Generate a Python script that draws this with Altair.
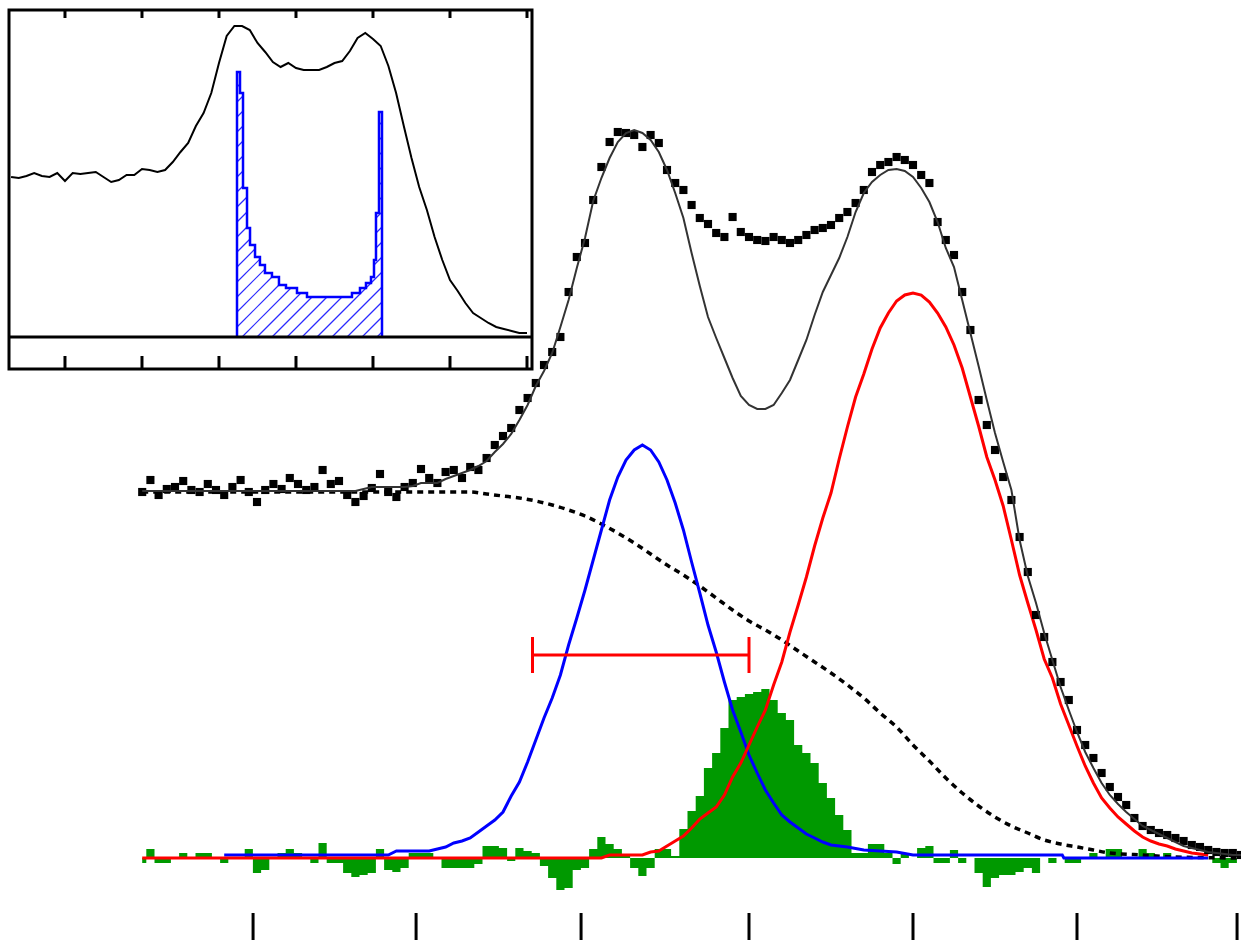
import altair as alt
import pandas as pd
import numpy as np

# ---------------- main spectrum: energy (channel units) and counts above baseline
energy = [30, 35, 40, 45, 50, 55, 60, 65, 70, 75,
          80, 85, 90, 95, 100, 105, 110, 115, 120, 125,
          130, 135, 140, 145, 150, 155, 160, 165, 170, 175,
          180, 185, 190, 195, 200, 205, 210, 215, 220, 225,
          230, 235, 240, 245, 250, 255, 260, 265, 270, 275,
          280, 285, 290, 295, 300, 305, 310, 315, 320, 325,
          330, 335, 340, 345, 350, 355, 360, 365, 370, 375,
          380, 385, 390, 395, 400, 405, 410, 415, 420, 425,
          430, 435, 440, 445, 450, 455, 460, 465, 470, 475,
          480, 485, 490, 495, 500, 505, 510, 515, 520, 525,
          530, 535, 540, 545, 550, 555, 560, 565, 570, 575,
          580, 585, 590, 595, 600, 605, 610, 615, 620, 625,
          630, 635, 640, 645, 650, 655, 660, 665, 670, 675,
          680, 685, 690, 695, 700]

counts = [366, 378, 363, 369, 371, 377, 368, 366, 374, 368,
          363, 371, 378, 366, 356, 368, 374, 369, 380, 374,
          368, 371, 388, 374, 377, 363, 356, 362, 370, 384,
          366, 361, 371, 375, 389, 380, 375, 386, 388, 380,
          391, 388, 400, 413, 422, 430, 448, 460, 475, 493,
          506, 521, 566, 601, 615, 658, 691, 716, 726, 725,
          723, 711, 723, 715, 688, 675, 668, 653, 640, 634,
          625, 621, 641, 626, 621, 618, 617, 621, 618, 615,
          618, 623, 628, 630, 633, 640, 646, 655, 668, 686,
          693, 696, 701, 698, 693, 683, 675, 636, 618, 603,
          566, 528, 458, 433, 408, 381, 358, 321, 286, 243,
          221, 196, 176, 158, 128, 113, 100, 85, 71, 61,
          53, 40, 32, 28, 25, 23, 20, 17, 13, 11,
          8, 6, 5, 5, 3]

fit_total = [367, 367, 367, 367, 367, 367, 367, 367, 367, 367,
             367, 367, 367, 367, 367, 367, 367, 367, 367, 367,
             367, 367, 367, 367, 367, 367, 367, 369, 371, 371,
             371, 371, 371, 372, 375, 375, 375, 379, 382, 385,
             388, 392, 397, 406, 414, 424, 438, 453, 472, 487,
             505, 531, 558, 590, 620, 657, 680, 700, 716, 725,
             728, 725, 718, 706, 688, 665, 640, 605, 572, 541,
             520, 500, 480, 462, 453, 449, 449, 453, 465, 478,
             498, 518, 543, 566, 583, 600, 621, 646, 665, 676,
             683, 688, 689, 687, 681, 670, 656, 636, 610, 591,
             558, 525, 492, 458, 425, 396, 368, 318, 282, 255,
             225, 198, 171, 148, 126, 106, 90, 75, 63, 54,
             46, 39, 32, 28, 24, 20, 16, 12, 10, 8,
             6, 5, 4, 3, 3]

residual = [-5, 9, -5, -5, 0, 5, 0, 5, 5, 0,
            -5, 0, 0, 9, -15, -12, 0, 5, 9, 5,
            0, -5, 15, -5, -5, -15, -19, -17, -15, 9,
            -12, -14, -10, 5, 5, 5, 0, -10, -10, -10,
            -10, -6, 12, 12, 10, -3, 10, 7, 5, -8,
            -20, -32, -30, -12, -10, 9, 21, 14, 9, 4,
            -10, -18, -10, 9, 9, 2, 29, 47, 62, 90,
            105, 130, 158, 161, 164, 166, 169, 158, 145, 138,
            113, 105, 95, 75, 60, 43, 28, 5, 5, 14,
            14, 5, -6, 5, 0, 10, 12, -5, -5, 8,
            -5, 0, -15, -29, -20, -17, -17, -14, -10, -15,
            0, -5, 0, -5, -5, 0, 5, 0, 9, 9,
            0, 0, 9, 5, 0, 5, 0, 0, 0, 0,
            0, -5, -10, -5, 0]

bg_energy = [30, 100, 200, 230, 240, 250, 260, 270, 280, 290, 300, 310, 320, 330,
             340, 350, 360, 370, 380, 390, 400, 410, 420, 430, 440, 450, 460, 470,
             480, 490, 500, 510, 520, 530, 540, 550, 560, 570, 580, 590, 600, 610,
             620, 640, 660, 700]
bg_counts = [366, 366, 366, 366, 364, 362, 360, 357, 353, 348, 342, 334, 325, 315,
             304, 293, 283, 272, 260, 248, 237, 228, 218, 207, 196, 185, 173, 160,
             145, 131, 113, 97, 80, 65, 52, 41, 32, 25, 18, 14, 11, 8,
             5, 3, 1, 0]

peak1_energy = [80, 180, 185, 200, 205, 210, 215, 220, 225, 230, 235, 240, 245, 250,
                255, 260, 265, 270, 275, 280, 285, 290, 295, 300, 305, 310, 315, 320,
                325, 330, 335, 340, 345, 350, 355, 360, 365, 370, 375, 380, 385, 390,
                395, 400, 405, 410, 415, 420, 425, 430, 435, 440, 445, 450, 460, 470,
                480, 490, 500, 591, 592, 680]
peak1_counts = [3, 3, 7, 7, 7, 9, 11, 15, 17, 20, 26, 32, 38, 46,
                62, 76, 96, 118, 140, 160, 183, 213, 240, 268, 298, 328, 358, 381,
                398, 408, 413, 408, 396, 378, 355, 328, 296, 265, 233, 206, 176, 148,
                126, 103, 85, 68, 55, 43, 36, 30, 24, 20, 16, 13, 11, 8,
                7, 6, 3, 3, 0, 0]

peak2_energy = [30, 310, 315, 335, 340, 345, 350, 355, 360, 365, 370, 375, 380, 385,
                390, 395, 400, 405, 410, 415, 420, 425, 430, 435, 440, 445, 450, 455,
                460, 465, 470, 475, 480, 485, 490, 495, 500, 505, 510, 515, 520, 525,
                530, 535, 540, 545, 550, 555, 560, 565, 570, 575, 580, 585, 590, 595,
                600, 605, 610, 615, 620, 625, 630, 635, 640, 645, 650, 655, 660, 665,
                670, 675, 680]
peak2_counts = [0, 0, 3, 3, 6, 7, 12, 17, 22, 30, 39, 45, 51, 63,
                81, 95, 113, 131, 148, 173, 196, 226, 253, 281, 312, 340, 365, 399,
                431, 461, 484, 509, 530, 545, 557, 563, 565, 563, 556, 545, 531, 513,
                490, 461, 432, 401, 378, 352, 318, 283, 255, 228, 199, 180, 154, 133,
                112, 92, 75, 60, 50, 41, 34, 27, 21, 17, 14, 12, 9, 7,
                5, 4, 3]

errbar_energy = [268, 400]
errbar_level = [203]
errbar_cap = [185, 221]

tick_energy = [97.6, 197, 297.6, 400, 500, 600, 697.6]
tick_span = [-55, -82]

main_x_domain = [-56.71, 700]
main_y_domain = [-85, 858]

# ---------------- inset
inset_u = [-7, -6, -5, -4, -3, -2, -1, 0, 1, 2,
           3, 4, 5, 6, 7, 8, 9, 10, 11, 12,
           13, 14, 15, 16, 17, 18, 19, 20, 21, 22,
           23, 24, 25, 26, 27, 28, 29, 30, 31, 32,
           33, 34, 35, 36, 37, 38, 39, 40, 41, 42,
           43, 44, 45, 46, 47, 48, 49, 50, 51, 52,
           53, 54, 55, 56, 57, 58, 59, 60]
inset_v = [160, 159, 161, 164, 161, 160, 164, 156, 164, 163,
           164, 165, 160, 155, 157, 162, 162, 168, 167, 165,
           167, 175, 185, 194, 211, 224, 244, 274, 301, 311,
           311, 307, 294, 285, 275, 270, 274, 269, 267, 267,
           267, 270, 274, 276, 286, 299, 304, 298, 291, 271,
           244, 211, 179, 150, 127, 100, 77, 57, 46, 34,
           24, 19, 14, 10, 8, 6, 4, 4]

hist_edges = [22.34, 22.73, 23.12, 23.64, 24.03, 24.68, 25.32, 25.97, 26.88, 27.79, 28.70,
              30.13, 31.43, 37.27, 38.31, 39.09, 39.74, 40.13, 40.39, 40.78, 41.17]
hist_heights = [265, 244, 149, 109, 92, 80, 72, 64, 60, 52, 49,
                44, 40, 44, 49, 54, 60, 77, 124, 225]

inset_ticks = [0, 10, 20, 30, 40, 50, 60]
inset_u_domain = [-7.27, 60.65]
inset_v_domain = [-32, 327]

# ---------------- layout
W, H = 1241, 943
INSET_X = [9, 532]
INSET_Y = [369, 10]

X = alt.Scale(domain=main_x_domain, range=[0, W], nice=False, zero=False)
Y = alt.Scale(domain=main_y_domain, range=[H, 0], nice=False, zero=False)
IX = alt.Scale(domain=inset_u_domain, range=INSET_X, nice=False, zero=False)
IY = alt.Scale(domain=inset_v_domain, range=INSET_Y, nice=False, zero=False)


def mx(f="e"):
    return alt.X(f + ":Q", scale=X, axis=None)


def my(f="c"):
    return alt.Y(f + ":Q", scale=Y, axis=None)


df = pd.DataFrame({"e": energy, "c": counts, "fit": fit_total, "res": residual})
bg = pd.DataFrame({"e": bg_energy, "c": bg_counts})
p1 = pd.DataFrame({"e": peak1_energy, "c": peak1_counts})
p2 = pd.DataFrame({"e": peak2_energy, "c": peak2_counts})

green = alt.Chart(df).mark_area(interpolate="step", color="#009900").encode(
    x=mx(), y=my("res"), y2=alt.datum(0))
dashed = alt.Chart(bg).mark_line(color="black", strokeWidth=3.5, strokeDash=[6, 5],
                                 interpolate="monotone").encode(x=mx(), y=my())
blue = alt.Chart(p1).mark_line(color="#0000ff", strokeWidth=3).encode(x=mx(), y=my())
red = alt.Chart(p2).mark_line(color="#ff0000", strokeWidth=3).encode(x=mx(), y=my())

eb = pd.DataFrame({"e": [errbar_energy[0]], "e2": [errbar_energy[1]], "c": errbar_level})
errbar = alt.Chart(eb).mark_rule(color="#ff0000", strokeWidth=3).encode(
    x=mx(), x2="e2:Q", y=my())
caps = pd.DataFrame({"e": errbar_energy, "c": [errbar_cap[0]] * 2, "c2": [errbar_cap[1]] * 2})
errcaps = alt.Chart(caps).mark_rule(color="#ff0000", strokeWidth=3).encode(
    x=mx(), y=my(), y2="c2:Q")

pts = alt.Chart(df).mark_square(size=66, color="black", opacity=1).encode(x=mx(), y=my())
fit = alt.Chart(df).mark_line(color="#333333", strokeWidth=2).encode(x=mx(), y=my("fit"))

tk = pd.DataFrame({"e": tick_energy, "c": [tick_span[0]] * len(tick_energy),
                   "c2": [tick_span[1]] * len(tick_energy)})
ticks = alt.Chart(tk).mark_rule(color="black", strokeWidth=3).encode(
    x=mx(), y=my(), y2="c2:Q")

main = alt.layer(green, dashed, blue, red, errbar, errcaps, pts, fit, ticks)


# ---------------- inset layers
def ix(f="u"):
    return alt.X(f + ":Q", scale=IX, axis=None)


def iy(f="v"):
    return alt.Y(f + ":Q", scale=IY, axis=None)


frame_df = pd.DataFrame({"u": [inset_u_domain[0]], "u2": [inset_u_domain[1]],
                         "v": [inset_v_domain[0]], "v2": [inset_v_domain[1]]})
frame = alt.Chart(frame_df).mark_rect(fill="white", stroke="black", strokeWidth=3).encode(
    x=ix(), x2="u2:Q", y=iy(), y2="v2:Q")

# hatch pattern (style only) clipped to the histogram outline
px_per_u = (INSET_X[1] - INSET_X[0]) / (inset_u_domain[1] - inset_u_domain[0])
px_per_v = (INSET_Y[0] - INSET_Y[1]) / (inset_v_domain[1] - inset_v_domain[0])
slope = px_per_u / px_per_v
spacing = 15.0 / px_per_u
edges = np.array(hist_edges)
heights = np.array(hist_heights, dtype=float)
ufine = np.linspace(edges[0], edges[-1] - 1e-6, 3000)
hfine = heights[np.clip(np.searchsorted(edges, ufine, side="right") - 1, 0, len(heights) - 1)]
rows = []
c = edges[0] - heights.max() / slope
while c < edges[-1]:
    v = slope * (ufine - c)
    inside = (v >= 0) & (v <= hfine)
    idx = np.flatnonzero(inside)
    if len(idx):
        br = np.where(np.diff(idx) > 1)[0]
        starts = np.r_[idx[0], idx[br + 1]]
        ends = np.r_[idx[br], idx[-1]]
        for s, e in zip(starts, ends):
            if e > s:
                rows.append({"u": ufine[s], "v": v[s], "u2": ufine[e], "v2": v[e]})
    c += spacing
hatch_df = pd.DataFrame(rows)
hatch = alt.Chart(hatch_df).mark_rule(color="#2a2aff", strokeWidth=1.2).encode(
    x=ix(), y=iy(), x2="u2:Q", y2="v2:Q")

ou, ov = [hist_edges[0]], [0]
for i, h in enumerate(hist_heights):
    ou += [hist_edges[i], hist_edges[i + 1]]
    ov += [h, h]
ou.append(hist_edges[-1])
ov.append(0)
outline_df = pd.DataFrame({"u": ou, "v": ov, "i": list(range(len(ou)))})
outline = alt.Chart(outline_df).mark_line(color="#0000ff", strokeWidth=2.5).encode(
    x=ix(), y=iy(), order="i:Q")

curve_df = pd.DataFrame({"u": inset_u, "v": inset_v})
curve = alt.Chart(curve_df).mark_line(color="black", strokeWidth=2).encode(x=ix(), y=iy())

base_df = pd.DataFrame({"u": [inset_u_domain[0]], "u2": [inset_u_domain[1]], "v": [0]})
baseline = alt.Chart(base_df).mark_rule(color="black", strokeWidth=3).encode(
    x=ix(), x2="u2:Q", y=iy())

ttop = pd.DataFrame({"u": inset_ticks, "v": [inset_v_domain[1]] * len(inset_ticks),
                     "v2": [inset_v_domain[1] - 8] * len(inset_ticks)})
tbot = pd.DataFrame({"u": inset_ticks, "v": [inset_v_domain[0]] * len(inset_ticks),
                     "v2": [inset_v_domain[0] + 13] * len(inset_ticks)})
itop = alt.Chart(ttop).mark_rule(color="black", strokeWidth=3).encode(
    x=ix(), y=iy(), y2="v2:Q")
ibot = alt.Chart(tbot).mark_rule(color="black", strokeWidth=3).encode(
    x=ix(), y=iy(), y2="v2:Q")

inset = alt.layer(frame, hatch, outline, curve, baseline, itop, ibot)

chart = alt.layer(main, inset).resolve_scale(
    x="independent", y="independent"
).properties(
    width=W, height=H, padding=0, autosize=alt.AutoSizeParams(type="none"),
    background="white"
).configure_view(stroke=None)

chart.save("out.html", embed_options={"renderer": "svg", "actions": False})
